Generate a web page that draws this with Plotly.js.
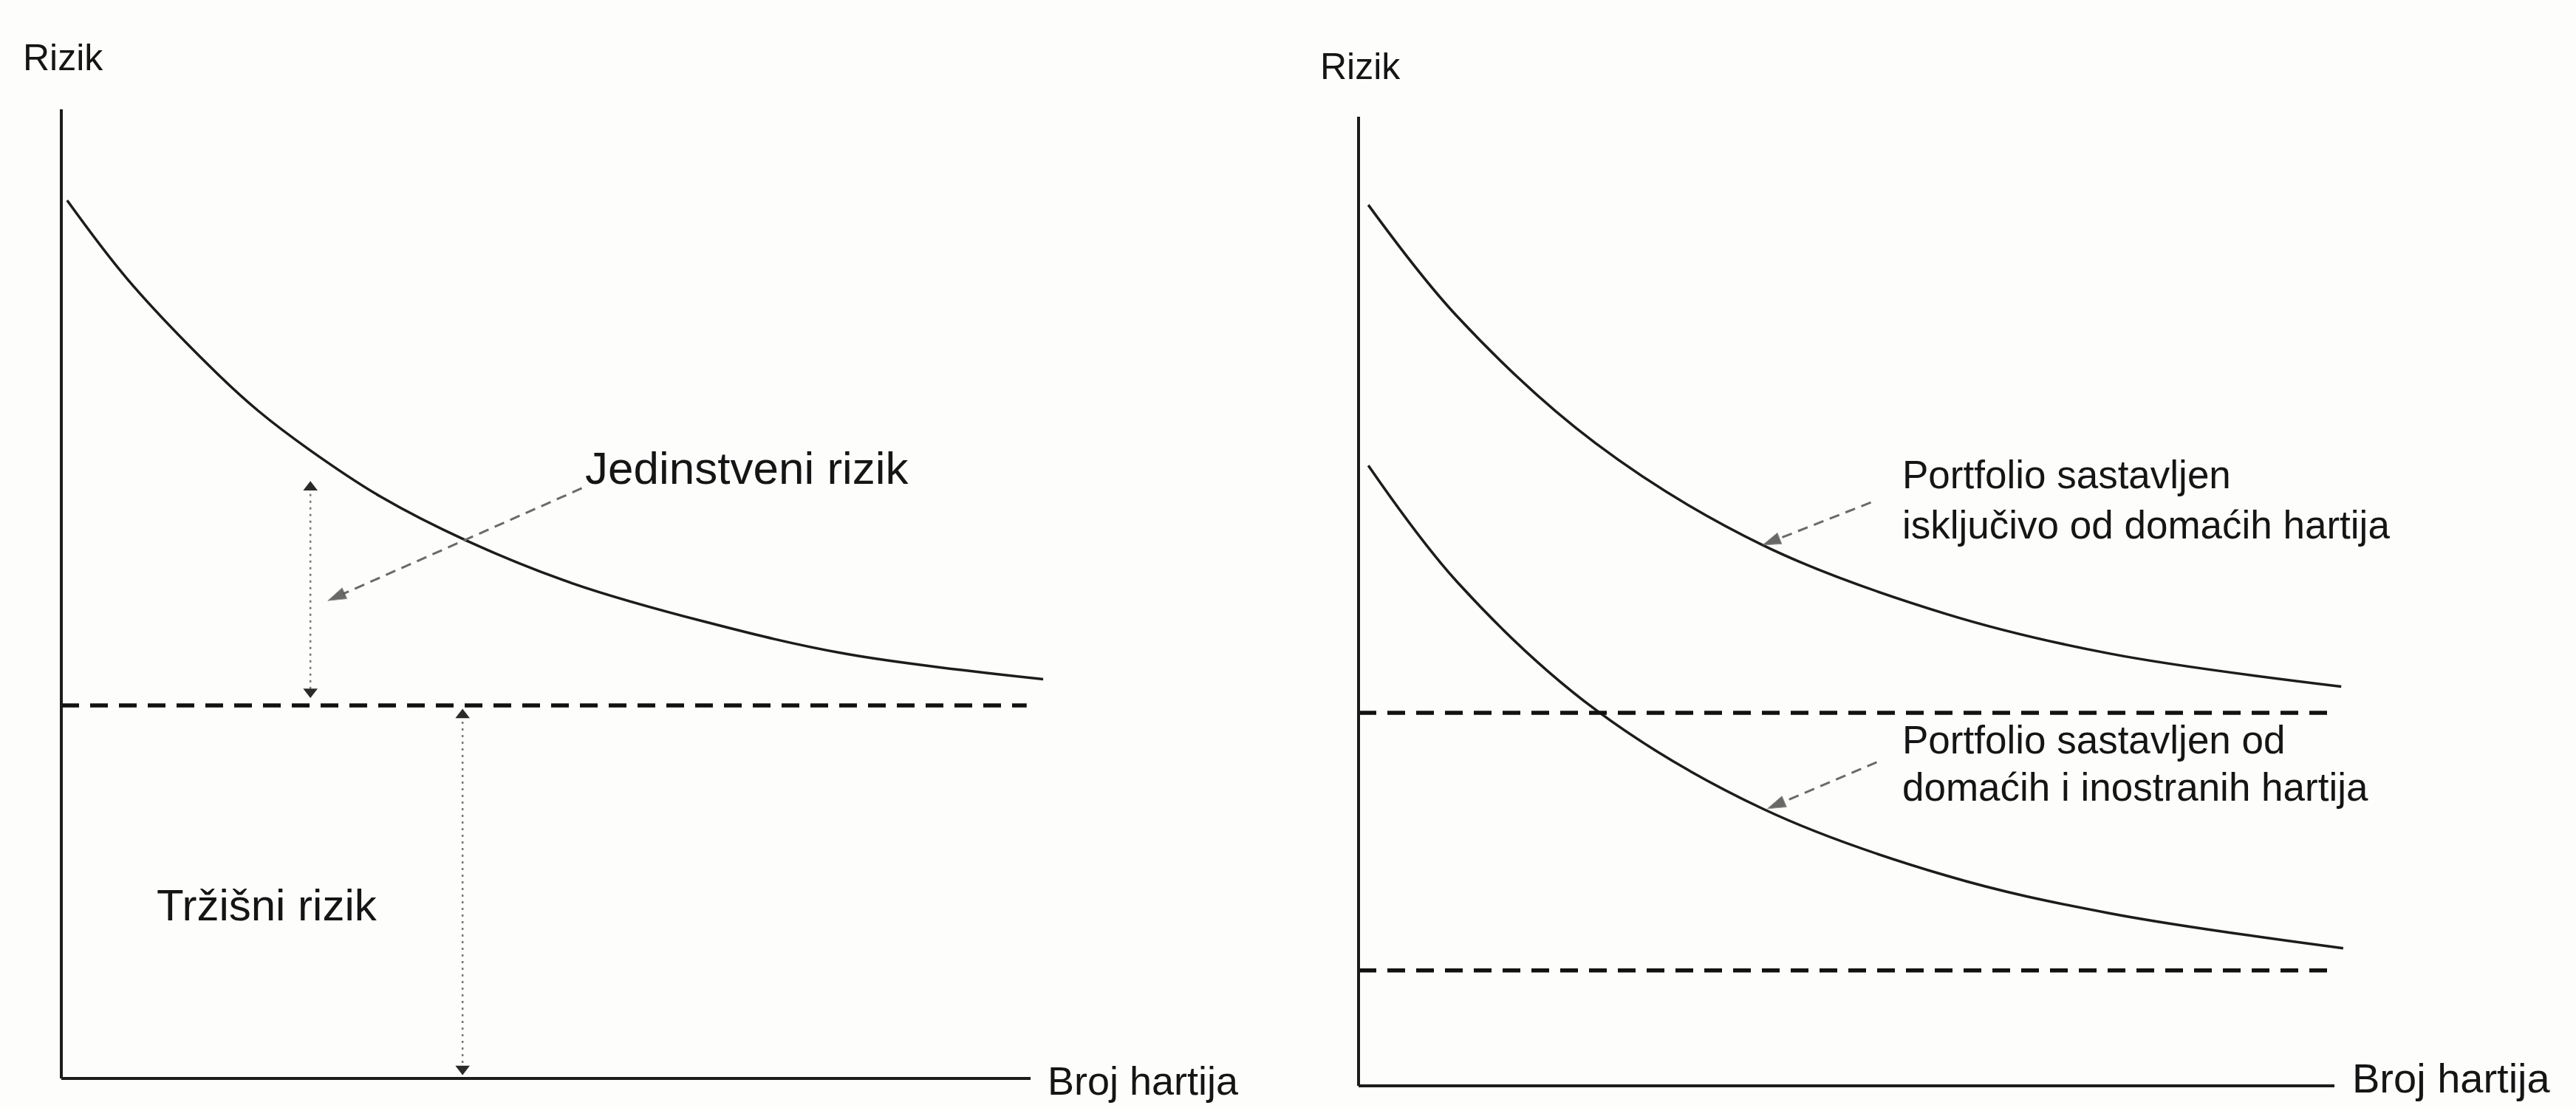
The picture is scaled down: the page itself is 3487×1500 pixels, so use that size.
<!DOCTYPE html>
<html>
<head>
<meta charset="utf-8">
<script src="https://cdn.plot.ly/plotly-3.0.1.min.js"></script>
<style>html,body{margin:0;padding:0;background:#fdfdfb;}#chart{width:3487px;height:1500px;}</style>
</head>
<body>
<div id="chart"></div>
<script>
// ---------- DATA ----------
// Left panel: unique risk curve (x = number of securities, y = risk)
const leftCurveX = [0.6, 6.8, 15.5, 20.3, 25.7, 33.0, 41.8, 52.7, 66.5, 81.0, 101.3];
const leftCurveY = [90.6, 82.5, 73.3, 68.9, 64.8, 60.0, 55.5, 51.1, 47.1, 43.8, 41.2];
const leftMarketRisk = 38.5;
const leftDashX = [0, 99.6];

// Right panel: domestic-only portfolio and domestic+foreign portfolio
const domesticX = [1.0, 10.1, 24.3, 41.4, 60.2, 77.0, 100.7];
const domesticY = [90.9, 79.4, 66.3, 55.8, 48.7, 44.6, 41.2];
const mixedX = [1.0, 10.1, 24.3, 41.4, 60.2, 77.0, 100.9];
const mixedY = [64.0, 52.0, 38.8, 28.6, 21.7, 17.8, 14.2];
const domesticFloor = 38.5;
const mixedFloor = 11.9;
const rightDashX = [0, 100];

// Double-headed dotted measurement arrows (left panel)
const uniqueArrowX = [25.7, 25.7];
const uniqueArrowY = [61.0, 39.9];
const marketArrowX = [41.4, 41.4];
const marketArrowY = [37.5, 1.0];

// Pointer arrows (from label to curve)
const pointerLeftX = [53.7, 27.5];
const pointerLeftY = [60.9, 49.3];
const pointerDomX = [52.5, 41.4];
const pointerDomY = [60.2, 55.8];
const pointerMixX = [53.1, 41.9];
const pointerMixY = [33.4, 28.6];

// Texts
const yLabel = "Rizik";
const xLabel = "Broj hartija";
const labelUnique = "Jedinstveni rizik";
const labelMarket = "Tržišni rizik";
const labelDomestic = ["Portfolio sastavljen", "isključivo od domaćih hartija"];
const labelMixed = ["Portfolio sastavljen od", "domaćih i inostranih hartija"];

// ---------- LAYOUT HELPERS ----------
const W = 3487, H = 1500;
function xRange(domStartPx, domLenPx, originPx, endPx) {
  const u = (endPx - originPx) / 100;
  const r0 = -(originPx - domStartPx) / u;
  return [r0, r0 + domLenPx / u];
}
function yRange(originPx, topPx) {
  const u = (originPx - topPx) / 100;
  const r0 = -(H - originPx) / u;
  return [r0, r0 + H / u];
}
const half = W / 2;
const FONT = "Liberation Sans, Arial, Helvetica, sans-serif";
const INK = "#1c1c1c";

const traces = [];
function curve(x, y, xa, ya) {
  traces.push({x, y, xaxis: xa, yaxis: ya, type: "scatter", mode: "lines",
    line: {color: INK, width: 3.5, shape: "spline", smoothing: 1}, hoverinfo: "skip"});
}
function dashLine(xs, level, xa, ya) {
  traces.push({x: xs, y: [level, level], xaxis: xa, yaxis: ya, type: "scatter", mode: "lines",
    line: {color: "#111", width: 5.5, dash: "24px,15px"}, hoverinfo: "skip"});
}
function dotArrow(x, y, xa, ya) {
  traces.push({x, y, xaxis: xa, yaxis: ya, type: "scatter", mode: "lines+markers",
    line: {color: "#777", width: 2.5, dash: "3px,6px"},
    marker: {symbol: ["triangle-up", "triangle-down"], size: 17, color: "#2a2a2a"},
    hoverinfo: "skip"});
}
function pointer(x, y, xa, ya) {
  traces.push({x, y, xaxis: xa, yaxis: ya, type: "scatter", mode: "lines+markers",
    line: {color: "#6a6a6a", width: 3, dash: "14px,9px"},
    marker: {symbol: "arrow", angleref: "previous", size: [0, 26], color: "#2a2a2a"},
    hoverinfo: "skip"});
}

curve(leftCurveX, leftCurveY, "x", "y");
dashLine(leftDashX, leftMarketRisk, "x", "y");
dotArrow(uniqueArrowX, uniqueArrowY, "x", "y");
dotArrow(marketArrowX, marketArrowY, "x", "y");
pointer(pointerLeftX, pointerLeftY, "x", "y");

curve(domesticX, domesticY, "x2", "y2");
curve(mixedX, mixedY, "x2", "y2");
dashLine(rightDashX, domesticFloor, "x2", "y2");
dashLine(rightDashX, mixedFloor, "x2", "y2");
pointer(pointerDomX, pointerDomY, "x2", "y2");
pointer(pointerMixX, pointerMixY, "x2", "y2");

function ann(text, x, y, xref, yref, size) {
  return {text, x, y, xref, yref, showarrow: false, xanchor: "left", yanchor: "middle",
    font: {family: FONT, size, color: "#151515"}};
}
const annotations = [
  ann(yLabel, -4.1, 105.3, "x", "y", 50),
  ann(xLabel, 101.6, -0.2, "x", "y", 54),
  ann(labelUnique, 53.9, 63.0, "x", "y", 62),
  ann(labelMarket, 9.7, 17.9, "x", "y", 60),
  ann(yLabel, -4.1, 105.2, "x2", "y2", 50),
  ann(xLabel, 101.7, 0.8, "x2", "y2", 56),
  ann(labelDomestic[0], 55.6, 63.1, "x2", "y2", 53),
  ann(labelDomestic[1], 55.6, 57.9, "x2", "y2", 53),
  ann(labelMixed[0], 55.6, 35.7, "x2", "y2", 53),
  ann(labelMixed[1], 55.6, 30.8, "x2", "y2", 53)
];

function axisLines(xref, yref) {
  return [
    {type: "line", xref, yref, x0: 0, y0: 0, x1: 0, y1: 100, line: {color: INK, width: 4}},
    {type: "line", xref, yref, x0: 0, y0: 0, x1: 100, y1: 0, line: {color: INK, width: 4}}
  ];
}

const hidden = {visible: false, showgrid: false, zeroline: false, fixedrange: true};
const layout = {
  width: W, height: H,
  margin: {l: 0, r: 0, t: 0, b: 0, pad: 0},
  paper_bgcolor: "#fdfdfb", plot_bgcolor: "#fdfdfb",
  showlegend: false,
  xaxis: Object.assign({}, hidden, {domain: [0, 0.5], range: xRange(0, half, 83, 1395)}),
  yaxis: Object.assign({}, hidden, {domain: [0, 1], range: yRange(1460, 148)}),
  xaxis2: Object.assign({}, hidden, {domain: [0.5, 1], range: xRange(half, half, 1839, 3160), anchor: "y2"}),
  yaxis2: Object.assign({}, hidden, {domain: [0, 1], range: yRange(1470, 158), anchor: "x2"}),
  shapes: axisLines("x", "y").concat(axisLines("x2", "y2")),
  annotations
};

Plotly.newPlot("chart", traces, layout, {staticPlot: true, displayModeBar: false});
</script>
</body>
</html>
